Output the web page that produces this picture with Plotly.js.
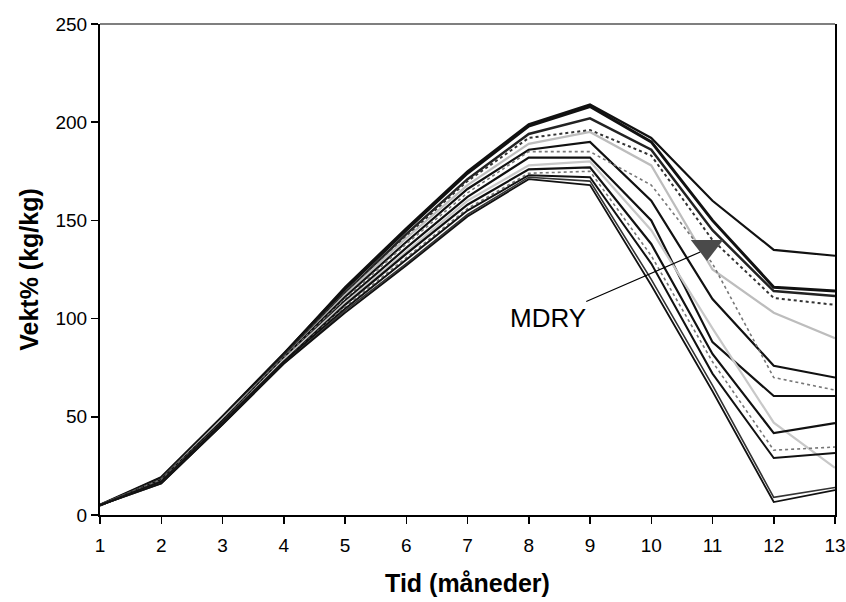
<!DOCTYPE html>
<html>
<head>
<meta charset="utf-8">
<script src="https://cdn.plot.ly/plotly-3.0.1.min.js"></script>
<style>html,body{margin:0;padding:0;background:#fff;}#chart{width:846px;height:602px;}</style>
</head>
<body>
<div id="chart"></div>
<script>
const months = [1,2,3,4,5,6,7,8,9,10,11,12,13];
const tickLabels = ['1','2','3','4','5','6','7','8','9','10','11','12','13'];

const serA = [5,19,50,82,116,146,175,199,209,192,160,135,132];
const serB = [5,19,50,82,115,145,174,198,208,190,150,116,114];
const serC = [5,18,49,81,113,143,171,194,202,186,145,114,111.5];
const serD = [5,18,49,81,113,142,170,192,196,183,140,110.5,107];
const serE = [5,18,49,80,112,141,168,189,195,178,125,103,90];
const serF = [5,18,48,80,111,139,166,186,190,160,110,76,70];
const serG = [5,18,48,80,110,138,164,185,185,168,128,70,63.6];
const serH = [5,17,48,79,109,136,162,182,182,150,88,60.6,60.6];
const serI = [5,17,47,79,108,134,160,178,180,145,95,47,24];
const serJ = [5,17,47,78,107,133,158,176,177,138,82,41.7,46.8];
const serK = [5,17,47,78,106,131,156,174,175,132,78,33,34.6];
const serL = [5,17,47,78,105,130,155,173,172,128,72,29,31.6];
const serM = [5,16,46,77,104,128,153,172,170,120,66,9,14];
const serN = [5,16,46,77,103,127,152,171,168,117,63,6.6,12.7];

const mdryX = [10.91];
const mdryY = [136.5];

const styles = [
  {d: serA, c:'#111', w:2.2, dash:'solid'},
  {d: serB, c:'#111', w:3, dash:'solid'},
  {d: serC, c:'#222', w:2.5, dash:'solid'},
  {d: serD, c:'#333', w:2, dash:'dot'},
  {d: serE, c:'#bdbdbd', w:2.2, dash:'solid'},
  {d: serF, c:'#111', w:2.2, dash:'solid'},
  {d: serG, c:'#777', w:1.6, dash:'dot'},
  {d: serH, c:'#111', w:2.2, dash:'solid'},
  {d: serI, c:'#c8c8c8', w:2.2, dash:'solid'},
  {d: serJ, c:'#111', w:2.2, dash:'solid'},
  {d: serK, c:'#777', w:1.6, dash:'dot'},
  {d: serL, c:'#111', w:2, dash:'solid'},
  {d: serM, c:'#333', w:1.6, dash:'solid'},
  {d: serN, c:'#111', w:1.8, dash:'solid'}
];

const traces = styles.map(s => ({
  x: months, y: s.d, type:'scatter', mode:'lines',
  line:{color:s.c, width:s.w, dash:s.dash}, hoverinfo:'skip', showlegend:false
}));
traces.push({
  x: mdryX, y: mdryY, type:'scatter', mode:'markers',
  marker:{symbol:'triangle-down', size:28, color:'#4a4a4a'}, showlegend:false, hoverinfo:'skip'
});

const fontFam = 'Liberation Sans, Arial, Helvetica, sans-serif';
const layout = {
  width:846, height:602,
  margin:{l:100, r:11, t:24, b:87},
  paper_bgcolor:'#fff', plot_bgcolor:'#fff',
  font:{family:fontFam, color:'#000'},
  xaxis:{
    range:[1,13], tickvals:months, ticktext:tickLabels,
    showgrid:false, zeroline:false, showline:true, linecolor:'#000', linewidth:2,
    ticks:'outside', ticklen:7, tickwidth:1.5, tickcolor:'#000', ticklabelstandoff:5,
    tickfont:{size:19, family:fontFam},
    title:{text:'<b>Tid (måneder)</b>', font:{size:25, family:fontFam}, standoff:20}
  },
  yaxis:{
    range:[0,250], tickvals:[0,50,100,150,200,250],
    showgrid:false, zeroline:false, showline:true, linecolor:'#000', linewidth:2, mirror:true,
    ticks:'outside', ticklen:7, tickwidth:1.5, tickcolor:'#000',
    tickfont:{size:19, family:fontFam},
    title:{text:'<b>Vekt% (kg/kg)</b>', font:{size:25, family:fontFam}, standoff:10}
  },
  shapes:[{type:'line', xref:'paper', yref:'paper', x0:0, x1:1, y0:1, y1:1, line:{color:'#000', width:1.2}}],
  annotations:[{
    x:10.80, y:133.9, xref:'x', yref:'y',
    text:'MDRY', showarrow:true, arrowhead:0, arrowwidth:1.2, arrowcolor:'#000',
    ax:-152, ay:66, font:{size:26, family:fontFam, color:'#000'}
  }]
};

Plotly.newPlot('chart', traces, layout, {staticPlot:true, displayModeBar:false});
</script>
</body>
</html>
